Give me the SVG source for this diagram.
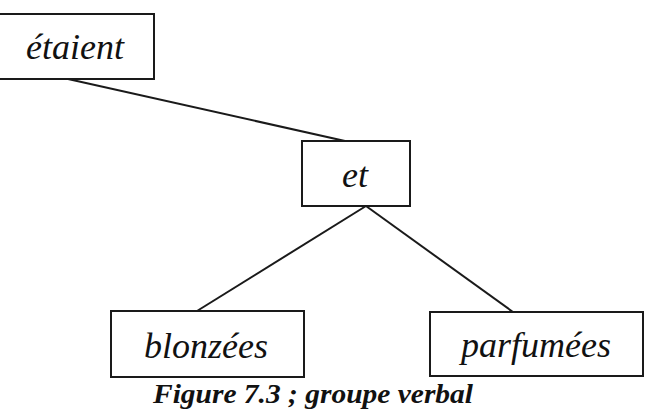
<svg xmlns="http://www.w3.org/2000/svg" width="650" height="414" viewBox="0 0 650 414">
<style>
.box{fill:#fff;stroke:#1a1a1a;stroke-width:2}
.edge{stroke:#1a1a1a;stroke-width:2;fill:none}
</style>
<rect width="650" height="414" fill="#fff"/>
<g id="connectors">
<line class="edge" x1="68" y1="79" x2="345" y2="141"/>
<line class="edge" x1="366" y1="206" x2="197" y2="311"/>
<line class="edge" x1="366" y1="206" x2="513" y2="312"/>
</g>
<g id="n-etaient"><rect class="box" x="-1" y="14" width="155" height="65"/><text font-family="Liberation Serif" font-style="italic" font-size="36" fill="#111" text-anchor="middle" x="75" y="59">étaient</text></g>
<g id="n-et"><rect class="box" x="302" y="141" width="108" height="65"/><text font-family="Liberation Serif" font-style="italic" font-size="36" fill="#111" text-anchor="middle" x="355" y="187">et</text></g>
<g id="n-blonzees"><rect class="box" x="111" y="311" width="193" height="66"/><text font-family="Liberation Serif" font-style="italic" font-size="36" fill="#111" text-anchor="middle" x="206" y="358">blonzées</text></g>
<g id="n-parfumees"><rect class="box" x="430" y="312" width="213" height="64"/><text font-family="Liberation Serif" font-style="italic" font-size="36" fill="#111" text-anchor="middle" x="536" y="357">parfumées</text></g>
<text font-family="Liberation Serif" font-style="italic" font-weight="bold" font-size="27" fill="#111" x="153" y="403" textLength="320" lengthAdjust="spacingAndGlyphs">Figure 7.3 ; groupe verbal</text>
</svg>
